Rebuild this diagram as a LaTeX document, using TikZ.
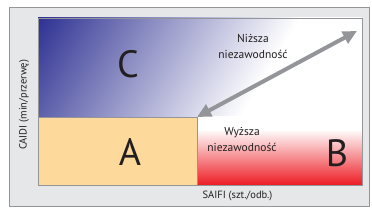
\documentclass[tikz,border=0pt]{standalone}
\usepackage{fontspec}
\setmainfont{PT Sans}
\usepackage{tikz}
\usetikzlibrary{arrows.meta}

\definecolor{frameGray}{HTML}{939598}
\definecolor{panelGray}{HTML}{E6E7E8}
\definecolor{zoneSand}{HTML}{FDDA9C}
\definecolor{zoneBlue}{HTML}{2E3192}
\definecolor{zoneRed}{HTML}{ED1C24}
\definecolor{textDark}{HTML}{231F20}

\pgfdeclarehorizontalshading{zoneCshade}{100bp}{color(0bp)=(zoneBlue); color(24.6bp)=(zoneBlue); color(59.3bp)=(white); color(100bp)=(white)}
\pgfdeclareverticalshading{zoneBshade}{100bp}{color(0bp)=(zoneRed); color(25bp)=(zoneRed); color(66bp)=(white); color(100bp)=(white)}

\begin{document}
\begin{tikzpicture}[
    x=1pt, y=1pt,
    frame/.style={
        draw=frameGray,
        line width=0.8pt
    },
    letter/.style={
        text=textDark,
        inner sep=0pt,
        font=\fontsize{38}{38}\selectfont
    },
    note/.style={
        text=textDark,
        align=center,
        inner sep=0pt,
        font=\fontsize{11.5}{16}\selectfont
    },
    axislabel/.style={
        text=textDark,
        inner sep=0pt,
        font=\fontsize{10.5}{12}\selectfont
    },
    bigarrow/.style={
        {Triangle[length=14pt,width=13pt]}-{Triangle[length=14pt,width=13pt]},
        line width=4pt,
        draw=frameGray
    }
]

\useasboundingbox (0,0) rectangle (372,216);

% Panel
\fill[panelGray] (9.5,10) rectangle (369,209);
\draw[frame] (9.5,10) rectangle (369,209);

% Zone C: blue fading to white
\begin{scope}
    \clip (38,99) rectangle (362,198);
    \shade[shading=zoneCshade, shading angle=-31] (38,-13.5) rectangle (362,310.5);
\end{scope}

% Zone B: white fading to red
\shade[shading=zoneBshade] (197,31) rectangle (362,99);

% Zone A
\fill[zoneSand] (38,31) rectangle (197,99);
\draw[frame] (38,99) -- (197,99) -- (197,31);
\draw[frame] (38,31) rectangle (362,198);

% Arrow ends
\coordinate (lowTip) at (197,99);
\coordinate (highTip) at (357,185);
\draw[bigarrow] (lowTip) -- (highTip);

% Zone letters
\node[letter] (labelC) at (128,152) {C};
\node[letter] (labelA) at (130,64) {A};
\node[letter] (labelB) at (337,63) {B};

% Notes
\node[note] (lowRel) at (253,169.5) {Niższa\\niezawodność};
\node[note] (highRel) at (242,76.5) {Wyższa\\niezawodność};

% Axes
\node[axislabel, rotate=90] (caidi) at (24,111) {CAIDI (min/przerwę)};
\node[axislabel] (saifi) at (237.5,20) {SAIFI (szt./odb.)};

\end{tikzpicture}
\end{document}
